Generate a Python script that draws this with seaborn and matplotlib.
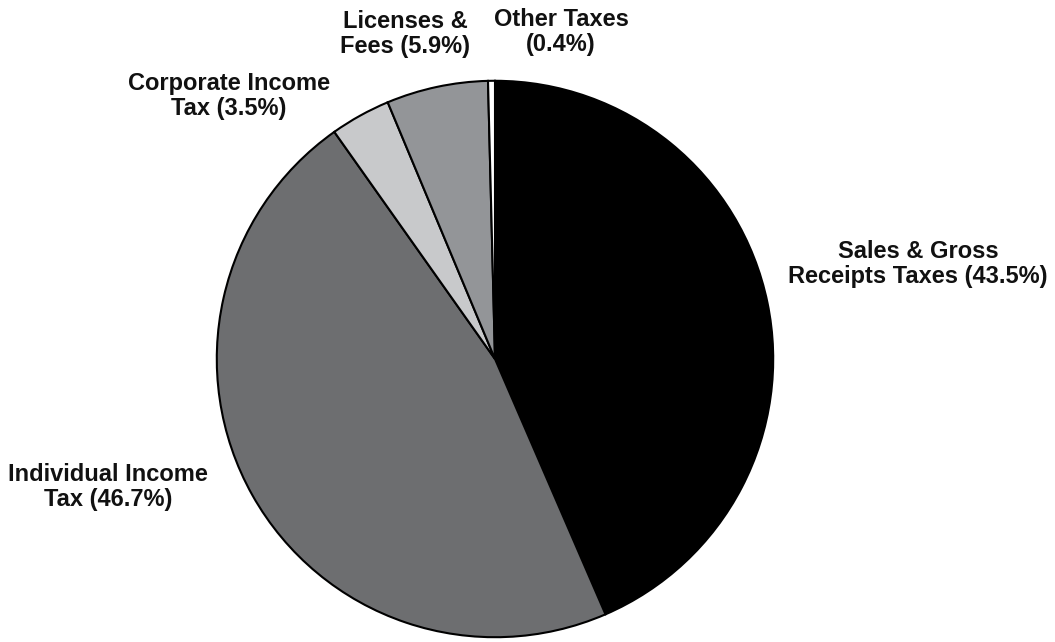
import matplotlib
matplotlib.use("Agg")
import matplotlib.pyplot as plt
import seaborn as sns

categories = ["Sales & Gross Receipts Taxes", "Individual Income Tax", "Corporate Income Tax",
              "Licenses & Fees", "Other Taxes"]
shares = [43.5, 46.7, 3.5, 5.9, 0.4]
colors = ["#000000", "#6d6e70", "#c8c9cb", "#939598", "#ffffff"]
label_texts = ["Sales & Gross\nReceipts Taxes (43.5%)", "Individual Income\nTax (46.7%)",
               "Corporate Income\nTax (3.5%)", "Licenses &\nFees (5.9%)", "Other Taxes\n(0.4%)"]

sns.set_theme(style="white")
plt.rcParams['font.family'] = ['Liberation Sans', 'DejaVu Sans']

W, H = 1055, 642
fig = plt.figure(figsize=(W / 100, H / 100), dpi=100)
cx, cy, r = 495, 359, 281
ax = fig.add_axes([(cx - r) / W, (H - cy - r) / H, 2 * r / W, 2 * r / H])
ax.pie(shares, colors=colors, startangle=90, counterclock=False,
       wedgeprops=dict(edgecolor="black", linewidth=1.5), radius=1.0)
ax.set_xlim(-1.01, 1.01)
ax.set_ylim(-1.01, 1.01)
ax.set_aspect("equal")
ax.axis("off")

label_pos = [(918, 264), (108, 487), (229, 96), (405, 34), (561, 32)]
for txt, (x, y) in zip(label_texts, label_pos):
    fig.text(x / W, 1 - y / H, txt, ha="center", va="center", fontsize=17,
             fontweight="bold", color="#111111", linespacing=1.16)

fig.savefig("out.png", dpi=100, facecolor="white")
